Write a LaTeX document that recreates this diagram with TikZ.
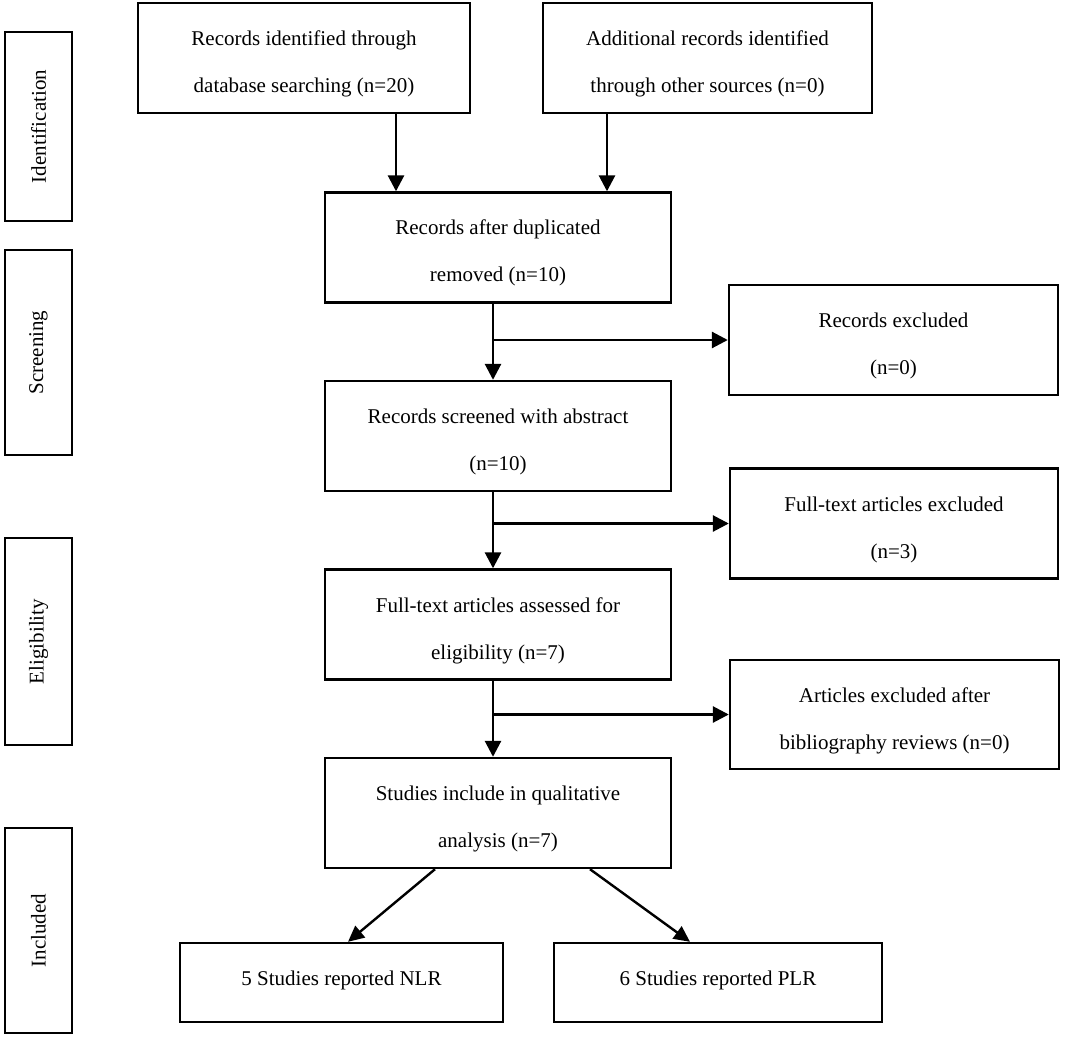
\documentclass[tikz,border=0pt]{standalone}
\usepackage{fontspec}
\setmainfont{Liberation Serif}
\usetikzlibrary{arrows.meta}
\begin{document}
\begin{tikzpicture}[x=1pt,y=-1pt,
  box/.style={draw, line width=2.4pt, inner sep=0pt, minimum height=110pt},
  txt/.style={align=center, inner sep=0pt, font=\fontsize{21}{47}\selectfont},
  side/.style={draw, line width=2.4pt, minimum width=67pt, inner sep=0pt},
  sidetxt/.style={rotate=90, font=\fontsize{21}{25}\selectfont},
  arr/.style={line width=2.8pt, -{Triangle[length=16pt,width=16pt]}},
  darr/.style={line width=2.4pt, -{Triangle[length=16pt,width=15pt]}}
]
\useasboundingbox (0,0) rectangle (1084,1038);
% side labels
\node[side, minimum height=189pt] (s1) at (38.5,126.5) {};
\node[sidetxt] (t1) at (s1.center) {Identification};
\node[side, minimum height=205pt] (s2) at (38.5,352.5) {};
\node[sidetxt] (t2) at (s2.center) {Screening};
\node[side, minimum height=207pt] (s3) at (38.5,641.5) {};
\node[sidetxt] (t3) at (s3.center) {Eligibility};
\node[side, minimum height=205pt] (s4) at (38.5,930.5) {};
\node[sidetxt] (t4) at (s4.center) {Included};
% main boxes
\node[box, minimum width=332pt] (db) at (304,58) {};
\node[txt] (dbt) at ([yshift=-6pt]db.center) {Records identified through\\database searching (n=20)};
\node[box, minimum width=329pt] (other) at (707.5,58) {};
\node[txt] (othert) at ([yshift=-6pt]other.center) {Additional records identified\\through other sources (n=0)};
\node[box, minimum width=346pt] (dup) at (498,247.5) {};
\node[txt] (dupt) at ([yshift=-5pt]dup.center) {Records after duplicated\\removed (n=10)};
\node[box, minimum width=346pt] (scr) at (498,436) {};
\node[txt] (scrt) at ([yshift=-6pt]scr.center) {Records screened with abstract\\(n=10)};
\node[box, minimum width=346pt] (full) at (498,624.5) {};
\node[txt] (fullt) at ([yshift=-6pt]full.center) {Full-text articles assessed for\\eligibility (n=7)};
\node[box, minimum width=346pt] (stud) at (498,813) {};
\node[txt] (studt) at ([yshift=-6pt]stud.center) {Studies include in qualitative\\analysis (n=7)};
\node[box, minimum width=329pt] (ex1) at (893.5,340) {};
\node[txt] (ex1t) at ([yshift=-6pt]ex1.center) {Records excluded\\(n=0)};
\node[box, minimum width=328pt] (ex2) at (894,523.5) {};
\node[txt] (ex2t) at ([yshift=-6pt]ex2.center) {Full-text articles excluded\\(n=3)};
\node[box, minimum width=329pt, minimum height=109pt] (ex3) at (894.5,714.5) {};
\node[txt] (ex3t) at ([yshift=-6pt]ex3.center) {Articles excluded after\\bibliography reviews (n=0)};
\node[box, minimum width=323pt, minimum height=79pt] (nlr) at (341.5,982.5) {};
\node[txt] (nlrt) at ([yshift=2pt]nlr.center) {5 Studies reported NLR};
\node[box, minimum width=328pt, minimum height=79pt] (plr) at (718,982.5) {};
\node[txt] (plrt) at ([yshift=2pt]plr.center) {6 Studies reported PLR};
% connectors
\coordinate (mx) at (493,0);
\draw[arr] ([xshift=92pt]db.south) -- ([xshift=92pt]db.south |- dup.north);
\draw[arr] ([xshift=-100.5pt]other.south) -- ([xshift=-100.5pt]other.south |- dup.north);
\draw[arr] (mx |- dup.south) -- (mx |- scr.north);
\draw[arr] (mx |- scr.south) -- (mx |- full.north);
\draw[arr] (mx |- full.south) -- (mx |- stud.north);
\draw[arr] (mx |- ex1.west) -- (ex1.west);
\draw[arr] (mx |- ex2.west) -- (ex2.west);
\draw[arr] (mx |- ex3.west) -- (ex3.west);
\draw[darr] ([xshift=-63pt]stud.south) -- ([xshift=6.5pt]nlr.north);
\draw[darr] ([xshift=92pt]stud.south) -- ([xshift=-28pt]plr.north);
\end{tikzpicture}
\end{document}
